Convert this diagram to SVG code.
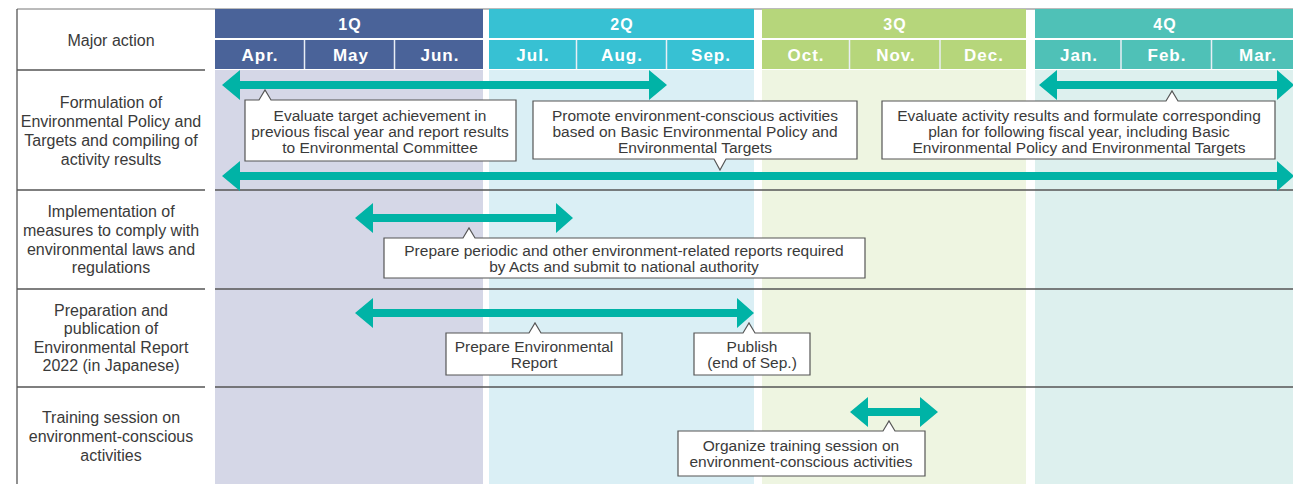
<svg xmlns="http://www.w3.org/2000/svg" width="1293" height="484" viewBox="0 0 1293 484">
<style>
.lbl{font-family:"Liberation Sans",Arial,sans-serif;font-size:16px;fill:#3a3a3a;text-anchor:middle}
.co{font-family:"Liberation Sans",Arial,sans-serif;font-size:15.5px;fill:#3a3a3a;text-anchor:middle}
.hq{font-family:"Liberation Sans",Arial,sans-serif;font-size:16px;font-weight:bold;fill:#fff;text-anchor:middle;letter-spacing:1px}
.hm{font-family:"Liberation Sans",Arial,sans-serif;font-size:17px;font-weight:bold;fill:#fff;text-anchor:middle;letter-spacing:1px}
.box{fill:#fff;stroke:#555;stroke-width:1.2}
.arr{fill:#00b3a6}
.rule{stroke:#555;stroke-width:1.3}
.msep{stroke:#e8eef5;stroke-width:1.5}
</style>
<rect x="0" y="0" width="1293" height="484" fill="#fff"/>
<g id="backgrounds">
<rect x="215" y="70" width="268" height="414" fill="#d5d7e7"/>
<rect x="489" y="70" width="265" height="414" fill="#daeff5"/>
<rect x="762" y="70" width="264" height="414" fill="#eef5e1"/>
<rect x="1035" y="70" width="258" height="414" fill="#ddf0ee"/>
</g>
<g id="header">
<line x1="17" y1="9" x2="1293" y2="9" stroke="#777" stroke-width="1"/>
<rect x="215" y="9" width="268" height="29" fill="#4a6399"/>
<rect x="215" y="40" width="268" height="29" fill="#4a6399"/>
<rect x="489" y="9" width="265" height="29" fill="#37c1d3"/>
<rect x="489" y="40" width="265" height="29" fill="#37c1d3"/>
<rect x="762" y="9" width="264" height="29" fill="#b6d67b"/>
<rect x="762" y="40" width="264" height="29" fill="#b6d67b"/>
<rect x="1035" y="9" width="258" height="29" fill="#4fc1b7"/>
<rect x="1035" y="40" width="258" height="29" fill="#4fc1b7"/>
<line class="msep" x1="304.5" y1="40" x2="304.5" y2="69"/>
<line class="msep" x1="394.5" y1="40" x2="394.5" y2="69"/>
<line class="msep" x1="576.5" y1="40" x2="576.5" y2="69"/>
<line class="msep" x1="666.5" y1="40" x2="666.5" y2="69"/>
<line class="msep" x1="849.5" y1="40" x2="849.5" y2="69"/>
<line class="msep" x1="940" y1="40" x2="940" y2="69"/>
<line class="msep" x1="1121" y1="40" x2="1121" y2="69"/>
<line class="msep" x1="1211.5" y1="40" x2="1211.5" y2="69"/>
<text class="hq" x="350" y="30">1Q</text>
<text class="hq" x="622" y="30">2Q</text>
<text class="hq" x="895" y="30">3Q</text>
<text class="hq" x="1165" y="30">4Q</text>
<text class="hm" x="260" y="61">Apr.</text>
<text class="hm" x="351" y="61">May</text>
<text class="hm" x="440" y="61">Jun.</text>
<text class="hm" x="533" y="61">Jul.</text>
<text class="hm" x="622" y="61">Aug.</text>
<text class="hm" x="711" y="61">Sep.</text>
<text class="hm" x="806" y="61">Oct.</text>
<text class="hm" x="896" y="61">Nov.</text>
<text class="hm" x="984" y="61">Dec.</text>
<text class="hm" x="1079" y="61">Jan.</text>
<text class="hm" x="1167" y="61">Feb.</text>
<text class="hm" x="1258" y="61">Mar.</text>
</g>
<g id="grid">
<line class="rule" x1="17" y1="9" x2="17" y2="484"/>
<line class="rule" x1="17" y1="70" x2="205" y2="70"/>
<line class="rule" x1="17" y1="190" x2="205" y2="190"/>
<line class="rule" x1="215" y1="190" x2="1293" y2="190"/>
<line class="rule" x1="17" y1="289" x2="205" y2="289"/>
<line class="rule" x1="215" y1="289" x2="1293" y2="289"/>
<line class="rule" x1="17" y1="387" x2="205" y2="387"/>
<line class="rule" x1="215" y1="387" x2="1293" y2="387"/>
</g>
<g id="row-labels">
<text class="lbl" x="111" y="46">Major action</text>
<text class="lbl" x="111" y="108">Formulation of</text>
<text class="lbl" x="111" y="127">Environmental Policy and</text>
<text class="lbl" x="111" y="146">Targets and compiling of</text>
<text class="lbl" x="111" y="165">activity results</text>
<text class="lbl" x="111" y="217">Implementation of</text>
<text class="lbl" x="111" y="236">measures to comply with</text>
<text class="lbl" x="111" y="255">environmental laws and</text>
<text class="lbl" x="111" y="273">regulations</text>
<text class="lbl" x="111" y="316">Preparation and</text>
<text class="lbl" x="111" y="334">publication of</text>
<text class="lbl" x="111" y="353">Environmental Report</text>
<text class="lbl" x="111" y="371">2022 (in Japanese)</text>
<text class="lbl" x="111" y="423">Training session on</text>
<text class="lbl" x="111" y="442">environment-conscious</text>
<text class="lbl" x="111" y="461">activities</text>
</g>
<g id="connectors">
<polygon class="arr" points="222,85 240,70 240,81 649,81 649,70 667,85 649,100 649,89 240,89 240,100"/>
<polygon class="arr" points="1039,85 1057,70 1057,81 1277,81 1277,70 1294,85 1277,100 1277,89 1057,89 1057,100"/>
<polygon class="arr" points="222,176 240,161 240,172 1277,172 1277,161 1294,176 1277,191 1277,180 240,180 240,191"/>
<polygon class="arr" points="355,218 373,203 373,214 556,214 556,203 573,218 556,233 556,222 373,222 373,233"/>
<polygon class="arr" points="355,313 373,298 373,309 737,309 737,298 754,313 737,328 737,317 373,317 373,328"/>
<polygon class="arr" points="850,412 868,397 868,408 920,408 920,397 938,412 920,427 920,416 868,416 868,427"/>
</g>
<g id="callout-evaluate-target">
<path class="box" d="M245,100 H259 L265,90 L271,100 H516 V161 H245 Z"/>
<text class="co" x="380" y="121">Evaluate target achievement in</text>
<text class="co" x="380" y="137">previous fiscal year and report results</text>
<text class="co" x="380" y="153">to Environmental Committee</text>
</g>
<g id="callout-promote">
<path class="box" d="M533,101 H857 V159 H726 L720,170 L714,159 H533 Z"/>
<text class="co" x="695" y="121">Promote environment-conscious activities</text>
<text class="co" x="695" y="137">based on Basic Environmental Policy and</text>
<text class="co" x="695" y="153">Environmental Targets</text>
</g>
<g id="callout-evaluate-activity">
<path class="box" d="M882,101 H1166 L1172,91 L1178,101 H1275 V159 H882 Z"/>
<text class="co" x="1079" y="121">Evaluate activity results and formulate corresponding</text>
<text class="co" x="1079" y="137">plan for following fiscal year, including Basic</text>
<text class="co" x="1079" y="153">Environmental Policy and Environmental Targets</text>
</g>
<g id="callout-periodic">
<path class="box" d="M384,238 H463 L469,228 L475,238 H865 V278 H384 Z"/>
<text class="co" x="624" y="256">Prepare periodic and other environment-related reports required</text>
<text class="co" x="624" y="272">by Acts and submit to national authority</text>
</g>
<g id="callout-prepare-report">
<path class="box" d="M446,333 H529 L535,323 L541,333 H622 V375 H446 Z"/>
<text class="co" x="534" y="352">Prepare Environmental</text>
<text class="co" x="534" y="368">Report</text>
</g>
<g id="callout-publish">
<path class="box" d="M694,333 H743 L749,323 L755,333 H810 V375 H694 Z"/>
<text class="co" x="752" y="352">Publish</text>
<text class="co" x="752" y="368">(end of Sep.)</text>
</g>
<g id="callout-training">
<path class="box" d="M678,431 H883 L889,421 L895,431 H925 V476 H678 Z"/>
<text class="co" x="801" y="451">Organize training session on</text>
<text class="co" x="801" y="467">environment-conscious activities</text>
</g>
</svg>
